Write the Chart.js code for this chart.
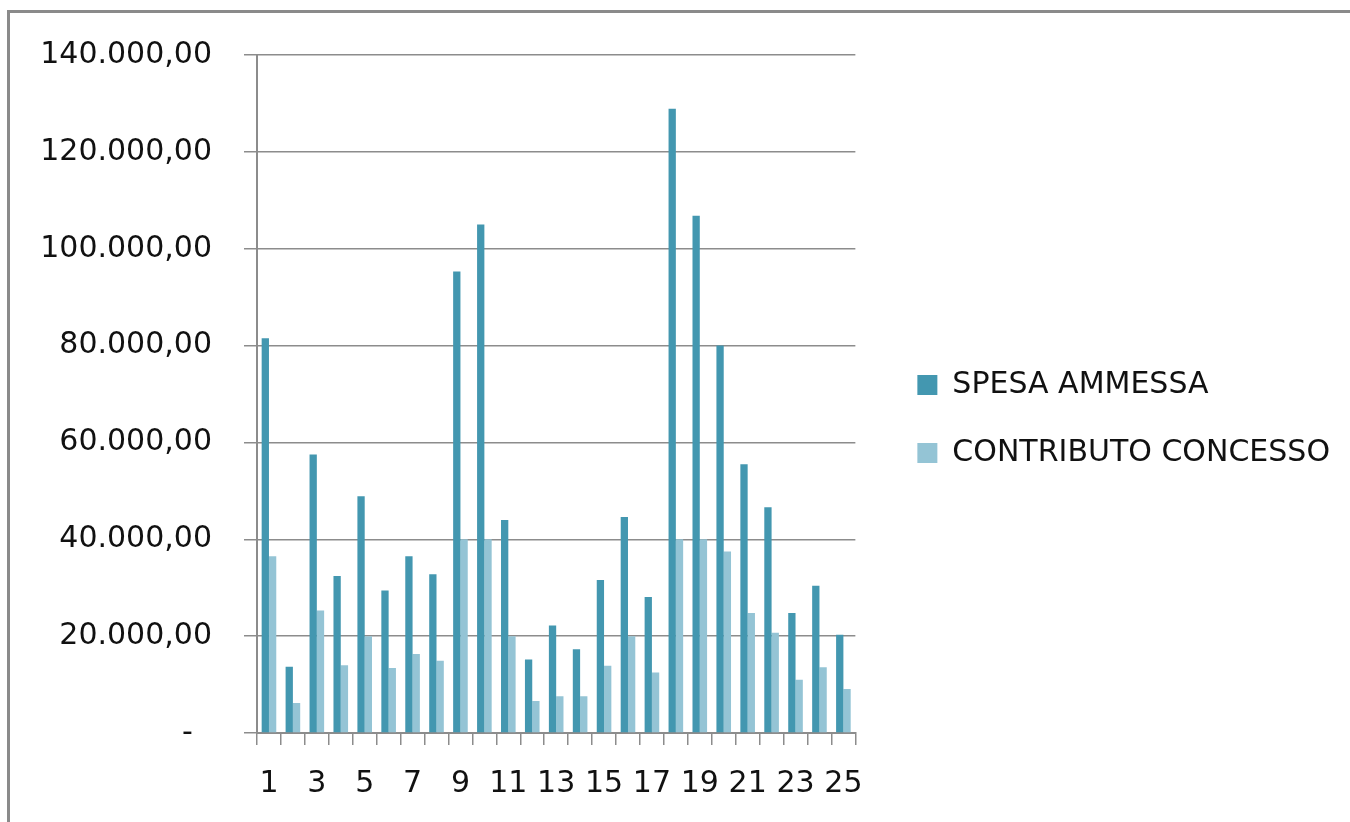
<!DOCTYPE html>
<html>
<head>
<meta charset="utf-8">
<script src="https://cdn.jsdelivr.net/npm/chart.js@4"></script>
<style>
  html, body { margin: 0; padding: 0; background: #fff; overflow: hidden; }
  #wrap { position: absolute; left: 0; top: 0; width: 1350px; height: 822px; }
  #frame { position: absolute; left: 7px; top: 10px; width: 1400px; height: 900px;
           border-left: 3px solid #8a8a8a; border-top: 3px solid #8a8a8a; }
  canvas { position: absolute; left: 0; top: 0; }
</style>
</head>
<body>
<div id="wrap">
  <div id="frame"></div>
  <canvas id="chart" width="1350" height="822"></canvas>
</div>
<script>
// values
var categories = ['1','2','3','4','5','6','7','8','9','10','11','12','13','14','15','16','17','18','19','20','21','22','23','24','25']
var spesaAmmessa = [81500, 13700, 57500, 32400, 48900, 29400, 36500, 32800, 95300, 105000, 44000, 15200, 22200, 17300, 31600, 44600, 28100, 128900, 106800, 80000, 55500, 46600, 24800, 30400, 20300]
var contributoConcesso = [36500, 6200, 25300, 14000, 20000, 13400, 16300, 14900, 40000, 40000, 20000, 6600, 7600, 7600, 13900, 20000, 12500, 40000, 40000, 37500, 24800, 20700, 11000, 13600, 9100]
var yTicks = [0, 20000, 40000, 60000, 80000, 100000, 120000, 140000]

var labelFont = { family: 'DejaVu Sans', size: 30 }
var gridColor = '#8c8c8c'

// italian style number: 140.000,00 ; zero shown as a dash
function formatEuro(v) {
    if (v === 0) return '-  '
    var s = Math.round(v).toString()
    var out = ''
    while (s.length > 3) {
        out = '.' + s.slice(-3) + out
        s = s.slice(0, -3)
    }
    return s + out + ',00'
}

var ctx = document.getElementById('chart')
var chart = new Chart(ctx, {
    type: 'bar',
    data: {
        labels: categories,
        datasets: [
            {
                label: 'SPESA AMMESSA',
                data: spesaAmmessa,
                backgroundColor: '#4397b0'
            },
            {
                label: 'CONTRIBUTO CONCESSO',
                data: contributoConcesso,
                backgroundColor: '#94c4d5'
            }
        ]
    },
    options: {
        responsive: false,
        animation: false,
        layout: { padding: { top: 55, left: 0, right: 10, bottom: 0 } },
        datasets: {
            bar: { categoryPercentage: 0.61, barPercentage: 1.0 }
        },
        plugins: {
            tooltip: { enabled: false },
            legend: {
                position: 'right',
                align: 'start',
                maxWidth: 470,
                // empty title only used to push the two entries down
                title: { display: true, text: ' ', font: { size: 10 }, padding: { top: 0, bottom: 265 } },
                labels: {
                    boxWidth: 20,
                    boxHeight: 20,
                    padding: 38,
                    color: '#111',
                    font: labelFont
                }
            }
        },
        scales: {
            x: {
                offset: true,
                grid: { display: true, offset: true, drawOnChartArea: false, tickLength: 12, color: gridColor, lineWidth: 1.5 },
                border: { display: true, color: gridColor, width: 2 },
                ticks: {
                    autoSkip: false,
                    maxRotation: 0,
                    padding: 21,
                    color: '#111',
                    font: labelFont,
                    callback: function(val, idx) {
                        return idx % 2 === 0 ? categories[idx] : ''
                    }
                },
                afterFit: function(scale) { scale.height = 822 - 733 }
            },
            y: {
                min: 0,
                max: 140000,
                afterBuildTicks: function(scale) {
                    scale.ticks = yTicks.map(function(v) { return { value: v } })
                },
                grid: { color: gridColor, lineWidth: 1.5, tickLength: 13 },
                border: { display: true, color: gridColor, width: 2 },
                ticks: {
                    padding: 32,
                    color: '#111',
                    font: labelFont,
                    callback: function(v) { return formatEuro(v) }
                },
                afterFit: function(scale) { scale.width = 257 }
            },
            pad: {
                type: 'linear',
                position: 'right',
                display: true,
                grid: { display: false },
                border: { display: false },
                ticks: { display: false },
                afterFit: function(scale) { scale.width = 24 }
            }
        }
    }
})
</script>
</body>
</html>
